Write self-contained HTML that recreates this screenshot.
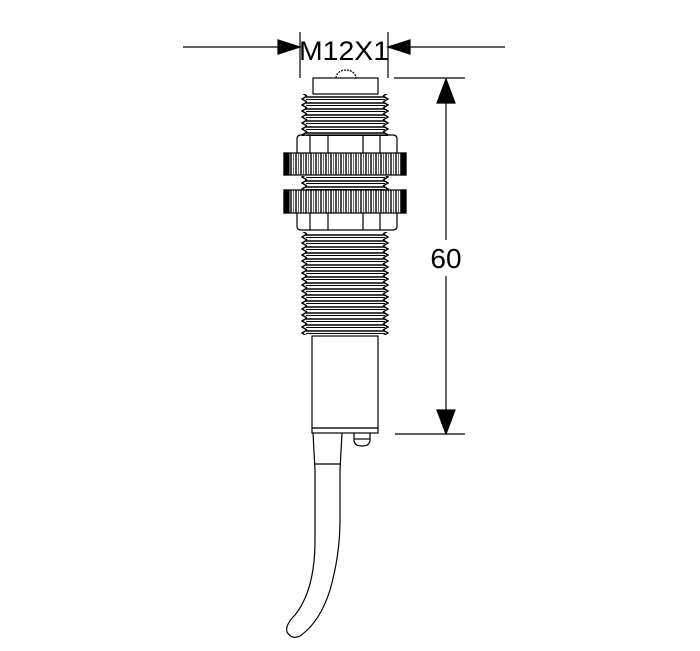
<!DOCTYPE html>
<html><head><style>
html,body{margin:0;padding:0;background:#fff;}
svg{display:block;}
</style></head><body>
<svg width="700" height="651" viewBox="0 0 700 651" xmlns="http://www.w3.org/2000/svg">
<defs>
<pattern id="thr" x="0" y="0" width="200" height="6" patternUnits="userSpaceOnUse">
<line x1="0" y1="1" x2="200" y2="1" stroke="#000" stroke-width="1.5"/>
<line x1="0" y1="3.5" x2="200" y2="3.5" stroke="#000" stroke-width="1.1"/>
</pattern>
<pattern id="zigL" x="0" y="0" width="10" height="6" patternUnits="userSpaceOnUse">
<polyline points="7,0 2,3 7,6" fill="none" stroke="#000" stroke-width="1.4"/>
</pattern>
<pattern id="knurl" x="0" y="0" width="5" height="30" patternUnits="userSpaceOnUse">
<line x1="1" y1="0" x2="1" y2="30" stroke="#000" stroke-width="1.4"/>
<line x1="3.5" y1="0" x2="3.5" y2="30" stroke="#000" stroke-width="0.6"/>
</pattern>
</defs>
<g stroke="#000" fill="none" stroke-width="1.2">
<line x1="183" y1="47" x2="280" y2="47"/>
<line x1="408" y1="47" x2="505" y2="47"/>
<polygon points="278,40 300,47 278,54" fill="#000"/>
<polygon points="410,40 388,47 410,54" fill="#000"/>
<line x1="300" y1="32" x2="300" y2="78"/>
<line x1="388" y1="32" x2="388" y2="78"/>
<line x1="394" y1="78" x2="465" y2="78"/>
<line x1="395" y1="434" x2="465" y2="434"/>
<line x1="446" y1="80" x2="446" y2="240"/>
<line x1="446" y1="276" x2="446" y2="432"/>
<polygon points="437,103 446,79 455,103" fill="#000"/>
<polygon points="437,410 446,434 455,410" fill="#000"/>
<path d="M336,78 A10,8 0 0 1 356,78" stroke-dasharray="2,1"/>
<rect x="313" y="78" width="65" height="16" fill="#fff"/>
<rect x="306" y="94" width="79" height="42" fill="url(#thr)" stroke="none"/>
<rect x="301" y="94" width="10" height="42" fill="url(#zigL)" stroke="none"/>
<rect x="380" y="94" width="10" height="42" fill="url(#zigL)" stroke="none" transform="translate(770,0) scale(-1,1)"/>
<path d="M297,153 V139 Q297,135 301,135 H393 Q397,135 397,139 V153"/>
<line x1="310" y1="135" x2="310" y2="153"/><line x1="328" y1="135" x2="328" y2="153"/>
<line x1="363" y1="135" x2="363" y2="153"/><line x1="380" y1="135" x2="380" y2="153"/>
<rect x="284" y="153" width="122" height="22" fill="url(#knurl)"/>
<rect x="284" y="153" width="5" height="22" fill="#000"/>
<rect x="401" y="153" width="5" height="22" fill="#000"/>
<rect x="306" y="176" width="79" height="14" fill="url(#thr)" stroke="none"/>
<rect x="301" y="176" width="10" height="14" fill="url(#zigL)" stroke="none"/>
<rect x="380" y="176" width="10" height="14" fill="url(#zigL)" stroke="none" transform="translate(770,0) scale(-1,1)"/>
<rect x="284" y="190" width="122" height="23" fill="url(#knurl)"/>
<rect x="284" y="190" width="5" height="23" fill="#000"/>
<rect x="401" y="190" width="5" height="23" fill="#000"/>
<path d="M297,213 V226 Q297,230 301,230 H393 Q397,230 397,226 V213"/>
<line x1="310" y1="213" x2="310" y2="230"/><line x1="328" y1="213" x2="328" y2="230"/>
<line x1="363" y1="213" x2="363" y2="230"/><line x1="380" y1="213" x2="380" y2="230"/>
<rect x="306" y="232" width="79" height="103" fill="url(#thr)" stroke="none"/>
<rect x="301" y="232" width="10" height="103" fill="url(#zigL)" stroke="none"/>
<rect x="380" y="232" width="10" height="103" fill="url(#zigL)" stroke="none" transform="translate(770,0) scale(-1,1)"/>
<rect x="312" y="336" width="66" height="92"/>
<rect x="312" y="428" width="66" height="5"/>
<path d="M354,433 V441 Q355,446 362,446 Q369,446 370,441 V433"/>
<line x1="354" y1="439" x2="370" y2="439"/>
<path d="M313,433 L315,470 L315,540 Q315,590 295,615 Q285,625 287,632 Q292,640 300,636 Q320,622 330,590 Q340,555 340,520 L340,470 L342,433"/>
<line x1="315" y1="464" x2="340" y2="464"/>
</g>
<text x="299" y="60" font-family="Liberation Sans, sans-serif" font-size="27" textLength="90" lengthAdjust="spacingAndGlyphs" fill="#000">M12X1</text>
<text x="446" y="268" font-family="Liberation Sans, sans-serif" font-size="28" text-anchor="middle" fill="#000">60</text>
</svg>
</body></html>
